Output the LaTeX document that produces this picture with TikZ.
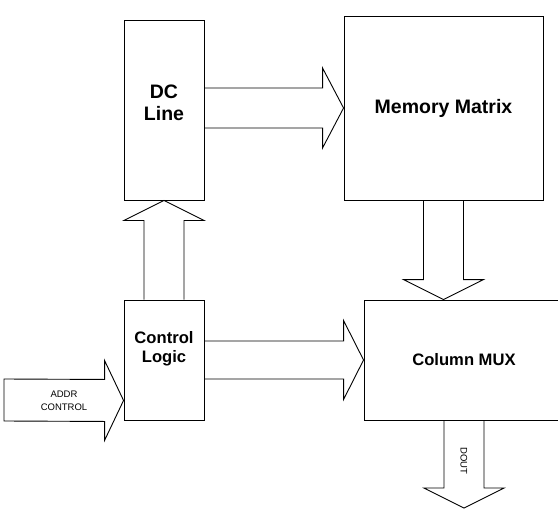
\documentclass[tikz,border=0pt]{standalone}
\usepackage{fontspec}
\setmainfont{Liberation Sans}
\usetikzlibrary{calc}
\begin{document}
\begin{tikzpicture}[x=1pt,y=-1pt,
  box/.style={draw=black,line width=0.9pt,fill=white,inner sep=0pt},
  arr/.style={draw=black,line width=0.9pt,line join=miter},
  bigtxt/.style={font=\bfseries\fontsize{19.5}{21.5}\selectfont,align=center,inner sep=0pt},
  midtxt/.style={font=\bfseries\fontsize{16.6}{19}\selectfont,align=center,inner sep=0pt},
  smalltxt/.style={font=\fontsize{9.5}{13}\selectfont,align=center,inner sep=0pt}]
\useasboundingbox (0,0) rectangle (558,520);
\clip (0,0) rectangle (558,520);
% boxes
\node[box,minimum width=80,minimum height=180] (dc) at (164,110) {};
\node[box,minimum width=199,minimum height=184] (mm) at (443.5,108) {};
\node[box,minimum width=80,minimum height=120] (ctrl) at (164,360) {};
\node[box,minimum width=200,minimum height=120] (mux) at (464,360) {};
% labels
\node[bigtxt] (dct) at ($(dc.center)+(0,-7)$) {DC\\Line};
\node[bigtxt] (mmt) at (mm.center) {Memory Matrix};
\node[midtxt] (ctrlt) at ($(ctrl.center)+(0,-11)$) {Control\\Logic};
\node[midtxt] (muxt) at (mux.center) {Column MUX};
% free ends
\coordinate (addrstart) at (4,400);
\coordinate (addrtip) at ($(ctrl.south west)+(0,-20)$);
\coordinate (douttip) at (464,508);
\coordinate (mmtip) at (mm.south |- mux.north);
% DC Line -> Memory Matrix
\draw[arr] ($(dc.east |- mm.west)+(0,-20)$) -- ($(mm.west)+(-21,-20)$) -- ($(mm.west)+(-21,-40)$)
  -- (mm.west) -- ($(mm.west)+(-21,40)$) -- ($(mm.west)+(-21,20)$) -- ($(dc.east |- mm.west)+(0,20)$);
% Control Logic -> DC Line
\draw[arr] ($(ctrl.north)+(-20,0)$) -- ($(dc.south)+(-20,20)$) -- ($(dc.south)+(-40,20)$)
  -- (dc.south) -- ($(dc.south)+(40,20)$) -- ($(dc.south)+(20,20)$) -- ($(ctrl.north)+(20,0)$);
% Control Logic -> Column MUX
\draw[arr] ($(ctrl.east)+(0,-19)$) -- ($(mux.west)+(-20,-19)$) -- ($(mux.west)+(-20,-39.5)$)
  -- (mux.west) -- ($(mux.west)+(-20,39.5)$) -- ($(mux.west)+(-20,19)$) -- ($(ctrl.east)+(0,19)$);
% ADDR CONTROL -> Control Logic
\draw[arr] ($(addrstart)+(0,-21)$) -- ($(addrtip)+(-19,-21)$) -- ($(addrtip)+(-19,-40)$)
  -- (addrtip) -- ($(addrtip)+(-19,40)$) -- ($(addrtip)+(-19,21)$) -- ($(addrstart)+(0,21)$) -- cycle;
\node[smalltxt] (addrt) at (64,401) {ADDR\\CONTROL};
% Memory Matrix -> Column MUX
\draw[arr] ($(mm.south)+(-20,0)$) -- ($(mmtip)+(-20,-20)$) -- ($(mmtip)+(-40,-20)$)
  -- (mmtip) -- ($(mmtip)+(40,-20)$) -- ($(mmtip)+(20,-20)$) -- ($(mm.south)+(20,0)$);
% Column MUX -> DOUT
\draw[arr] ($(mux.south)+(-20,0)$) -- ($(douttip)+(-20,-20)$) -- ($(douttip)+(-40,-20)$)
  -- (douttip) -- ($(douttip)+(40,-20)$) -- ($(douttip)+(20,-20)$) -- ($(mux.south)+(20,0)$);
\node[smalltxt,rotate=-90] (doutt) at (464,461) {DOUT};
\end{tikzpicture}
\end{document}
